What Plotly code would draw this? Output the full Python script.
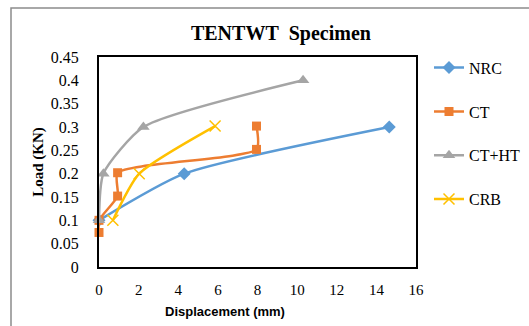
import plotly.graph_objects as go

# Data
nrc_x = [0, 4.3, 14.65]
nrc_y = [0.1, 0.2, 0.3]

ct_x = [0, 0, 0.94, 0.94, 7.95, 7.95]
ct_y = [0.074, 0.1, 0.152, 0.202, 0.252, 0.302]

cthte_x = [0, 0.22, 2.24, 10.3]
cthte_y = [0.1, 0.2, 0.3, 0.4]

crb_x = [0.7, 2.03, 5.86]
crb_y = [0.1, 0.2, 0.302]

x_ticks = [0, 2, 4, 6, 8, 10, 12, 14, 16]
y_ticks = [0, 0.05, 0.1, 0.15, 0.2, 0.25, 0.3, 0.35, 0.4, 0.45]
y_tick_text = ["0", "0.05", "0.1", "0.15", "0.2", "0.25", "0.3", "0.35", "0.4", "0.45"]

series = [
    ("NRC", nrc_x, nrc_y, "#5B9BD5", "diamond", 10),
    ("CT", ct_x, ct_y, "#ED7D31", "square", 9),
    ("CT+HT", cthte_x, cthte_y, "#A5A5A5", "triangle-up", 11),
    ("CRB", crb_x, crb_y, "#FFC000", "x-thin", 11),
]

fig = go.Figure()
for i, (name, xs, ys, col, sym, sz) in enumerate(series):
    marker = dict(symbol=sym, size=sz, color=col)
    if sym == "x-thin":
        marker["line"] = dict(color=col, width=1.5)
    fig.add_trace(go.Scatter(
        x=xs, y=ys, name=name, mode="lines+markers",
        line=dict(color=col, width=2.5, shape="spline", smoothing=0.6),
        marker=marker, cliponaxis=False, legendgroup=name,
    ))

serif = "Liberation Serif"
fig.update_layout(
    width=529, height=326,
    margin=dict(l=99, r=113, t=57, b=59, autoexpand=False),
    paper_bgcolor="white", plot_bgcolor="white",
    title=dict(text="TENTWT\u00a0 Specimen", x=0.574, xref="paper", xanchor="center",
               y=1 - 33 / 326, yanchor="middle",
               font=dict(family=serif, size=20, color="black", weight="bold")),
    font=dict(family=serif, color="black"),
    showlegend=True,
    legend=dict(x=1.041, xanchor="left", y=(267 - 57) / 210 + 0.03, yanchor="top",
                font=dict(family=serif, size=16, color="black"),
                tracegroupgap=20, bgcolor="rgba(0,0,0,0)", maxheight=1.0),
    xaxis=dict(range=[0, 16], tickvals=x_ticks, showgrid=False, zeroline=False,
               showline=True, linecolor="black", linewidth=2, mirror=True,
               ticks="", ticklabelstandoff=8,
               tickfont=dict(family=serif, size=15, color="black")),
    yaxis=dict(range=[0, 0.45], tickvals=y_ticks, ticktext=y_tick_text, showgrid=False,
               zeroline=False, showline=True, linecolor="black", linewidth=2, mirror=True,
               ticks="", ticklabelstandoff=15,
               title=dict(text="Load (KN)", standoff=4,
                          font=dict(family=serif, size=15, color="black", weight="bold")),
               tickfont=dict(family=serif, size=16, color="black")),
    annotations=[dict(text="Displacement (mm)", xref="paper", yref="paper",
                      x=(225 - 99) / 317, y=(267 - 311) / 210, xanchor="center", yanchor="middle",
                      showarrow=False,
                      font=dict(family="Liberation Sans", size=13, color="black", weight="bold"))],
    shapes=[dict(type="rect", xref="paper", yref="paper",
                 x0=(11 - 99) / 317, x1=1.5, y0=-0.6, y1=(267 - 8) / 210,
                 line=dict(color="#8c8c8c", width=1.5), fillcolor="rgba(0,0,0,0)", layer="below")],
)

fig.write_html("out.html")
